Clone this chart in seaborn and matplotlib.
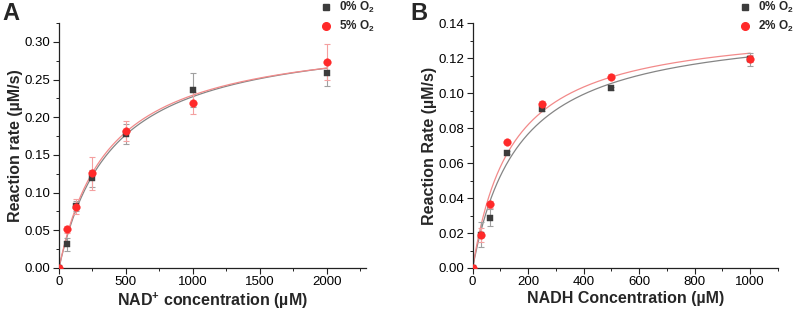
import numpy as np
import pandas as pd
import matplotlib
matplotlib.use("Agg")
import matplotlib.pyplot as plt
from matplotlib.lines import Line2D
from matplotlib.ticker import MultipleLocator
import seaborn as sns

# ---------------- data ----------------
nad_conc = [0, 62.5, 125, 250, 500, 1000, 2000]
nad_rate_0 = [0.0, 0.0314, 0.0820, 0.1190, 0.1780, 0.2360, 0.2590]
nad_err_0 = [0.0, 0.0086, 0.0070, 0.0110, 0.0130, 0.0230, 0.0172]
nad_rate_5 = [0.0, 0.0513, 0.0815, 0.1256, 0.1817, 0.2184, 0.2728]
nad_err_5 = [0.0, 0.0050, 0.0100, 0.0217, 0.0133, 0.0146, 0.0240]

nadh_conc = [0, 31.25, 62.5, 125, 250, 500, 1000]
nadh_rate_0 = [0.0, 0.0190, 0.0288, 0.0659, 0.0910, 0.1027, 0.1193]
nadh_err_0 = [0.0, 0.0071, 0.0050, 0.0010, 0.0010, 0.0010, 0.0036]
nadh_rate_2 = [0.0, 0.0189, 0.0364, 0.0722, 0.0937, 0.1093, 0.1196]
nadh_err_2 = [0.0, 0.0040, 0.0020, 0.0010, 0.0015, 0.0015, 0.0020]

labels_A = ["0% O$_\\mathbf{2}$", "5% O$_\\mathbf{2}$"]
labels_B = ["0% O$_\\mathbf{2}$", "2% O$_\\mathbf{2}$"]

# ---------------- style ----------------
sns.set_style("ticks")
plt.rcParams["font.family"] = ["Liberation Sans", "DejaVu Sans"]
plt.rcParams["mathtext.fontset"] = "custom"
plt.rcParams["mathtext.rm"] = "Liberation Sans"
plt.rcParams["mathtext.bf"] = "Liberation Sans:bold"
plt.rcParams["mathtext.it"] = "Liberation Sans:italic"

GREY_M = "#3c3c3c"
RED_M = "#ff2a2a"
GREY_L = "#858585"
RED_L = "#f28a8a"
GREY_E = "#a0a0a0"
RED_E = "#f4a0a0"


def mm_fit(x, y):
    x = np.asarray(x, float)
    y = np.asarray(y, float)
    best = None
    for K in np.linspace(10, 2000, 4000):
        f = x / (K + x)
        V = np.sum(y * f) / np.sum(f * f)
        r = np.sum((y - V * f) ** 2)
        if best is None or r < best[0]:
            best = (r, V, K)
    return best[1], best[2]


fig = plt.figure(figsize=(7.96, 3.16), dpi=100)
axA = fig.add_axes([0.0741, 0.1519, 0.4594 - 0.0741, 0.927 - 0.1519])
axB = fig.add_axes([0.5938, 0.1519, 0.9774 - 0.5938, 0.927 - 0.1519])


def draw(ax, conc, r0, e0, r1, e1, xmax):
    xs = np.linspace(0, max(conc), 400)
    for rate, err, lc, ec, mc, mk, sz in [
        (r0, e0, GREY_L, GREY_E, GREY_M, "s", 22),
        (r1, e1, RED_L, RED_E, RED_M, "o", 30),
    ]:
        V, K = mm_fit(conc, rate)
        fit = pd.DataFrame({"x": xs, "y": V * xs / (K + xs)})
        sns.lineplot(data=fit, x="x", y="y", ax=ax, color=lc, lw=0.9, zorder=2)
        ax.errorbar(conc, rate, yerr=err, fmt="none", ecolor=ec, elinewidth=0.8,
                    capsize=2.5, capthick=0.8, zorder=3)
        df = pd.DataFrame({"x": conc, "y": rate})
        sns.scatterplot(data=df, x="x", y="y", ax=ax, color=mc, marker=mk, s=sz,
                        edgecolor=mc, linewidth=0.3, zorder=4)
    ax.set_xlim(0, xmax)


draw(axA, nad_conc, nad_rate_0, nad_err_0, nad_rate_5, nad_err_5, 2290)
draw(axB, nadh_conc, nadh_rate_0, nadh_err_0, nadh_rate_2, nadh_err_2, 1100)

axA.set_ylim(0, 0.325)
axA.xaxis.set_major_locator(MultipleLocator(500))
axA.xaxis.set_minor_locator(MultipleLocator(250))
axA.yaxis.set_major_locator(MultipleLocator(0.05))
axA.yaxis.set_minor_locator(MultipleLocator(0.025))
axA.yaxis.set_major_formatter(matplotlib.ticker.FormatStrFormatter("%.2f"))

axB.set_ylim(0, 0.14)
axB.xaxis.set_major_locator(MultipleLocator(200))
axB.xaxis.set_minor_locator(MultipleLocator(100))
axB.yaxis.set_major_locator(MultipleLocator(0.02))
axB.yaxis.set_minor_locator(MultipleLocator(0.01))
axB.yaxis.set_major_formatter(matplotlib.ticker.FormatStrFormatter("%.2f"))

for ax in (axA, axB):
    sns.despine(ax=ax)
    for s in ("left", "bottom"):
        ax.spines[s].set_linewidth(0.9)
        ax.spines[s].set_color("#222222")
    ax.tick_params(which="major", direction="out", length=4, width=0.8,
                   labelsize=9.5, colors="#222222", pad=2)
    ax.tick_params(which="minor", direction="out", length=2.2, width=0.7,
                   colors="#222222")
    ax.tick_params(labelcolor="black")

axA.set_xlabel("NAD$^\\mathbf{+}$ concentration (µM)", fontsize=11.5,
               fontweight="bold", labelpad=2)
axA.set_ylabel("Reaction rate (µM/s)", fontsize=11.5, fontweight="bold", labelpad=1)
axB.set_xlabel("NADH Concentration (µM)", fontsize=11.5, fontweight="bold", labelpad=2)
axB.set_ylabel("Reaction Rate (µM/s)", fontsize=11.5, fontweight="bold", labelpad=1)

fig.text(0.003, 0.956, "A", fontsize=17, fontweight="bold", va="center", ha="left")
fig.text(0.515, 0.956, "B", fontsize=17, fontweight="bold", va="center", ha="left")


def legend(labels, x_fig):
    handles = [
        Line2D([], [], ls="none", marker="s", color=GREY_M, markersize=4.5),
        Line2D([], [], ls="none", marker="o", color=RED_M, markersize=5.5),
    ]
    fig.legend(handles, labels, loc="upper left", bbox_to_anchor=(x_fig, 1.0),
               frameon=False, prop={"weight": "bold", "size": 8.5},
               handlelength=1.0, handletextpad=0.6, labelspacing=0.35,
               borderpad=0.0, borderaxespad=0.0)


legend(labels_A, 0.402)
legend(labels_B, 0.929)

fig.savefig("out.png", dpi=100)
